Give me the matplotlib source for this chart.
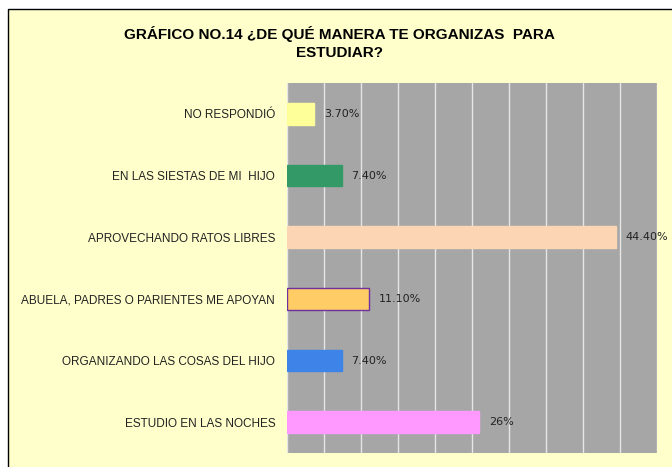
import matplotlib
matplotlib.use("Agg")
import matplotlib.pyplot as plt
from matplotlib.patches import Rectangle
import numpy as np

categories = ["NO RESPONDIÓ", "EN LAS SIESTAS DE MI  HIJO", "APROVECHANDO RATOS LIBRES",
              "ABUELA, PADRES O PARIENTES ME APOYAN", "ORGANIZANDO LAS COSAS DEL HIJO",
              "ESTUDIO EN LAS NOCHES"]
values = [3.7, 7.4, 44.4, 11.1, 7.4, 26]
value_labels = ["3.70%", "7.40%", "44.40%", "11.10%", "7.40%", "26%"]
colors = ["#FFFF99", "#339966", "#FCD5B4", "#FFCC66", "#3D83E8", "#FF99FF"]
edges = ["#FFFF99", "#339966", "#FCD5B4", "#7030A0", "#3D83E8", "#FF99FF"]

narrow = ["Liberation Sans Narrow", "Liberation Sans", "DejaVu Sans"]

fig = plt.figure(figsize=(6.72, 4.67), dpi=100)
fig.patch.set_facecolor("white")
# chart area box
fig.patches.append(Rectangle((8 / 672, -0.02), 1.1, 1 - 9 / 467 + 0.02,
                             transform=fig.transFigure, facecolor="#FFFFCC",
                             edgecolor="black", linewidth=1.0, zorder=-5))

ax = fig.add_axes([287 / 672, 1 - 453 / 467, 370 / 672, 370 / 467])
ax.set_zorder(2)
ax.set_facecolor("#A6A6A6")

y = np.arange(len(categories))
ax.barh(y, values, height=0.35, color=colors, edgecolor=edges, linewidth=1, zorder=3)
ax.set_xlim(0, 50)
ax.set_ylim(len(categories) - 0.5, -0.5)
ax.set_xticks(np.arange(0, 51, 5))
ax.xaxis.grid(True, color="#E6E6E6", linewidth=1)
ax.set_axisbelow(True)
ax.tick_params(axis="x", length=0, labelbottom=False)
ax.tick_params(axis="y", length=0, pad=8.5)
ax.set_yticks(y)
ax.set_yticklabels(categories, fontsize=8.5, family=narrow, color="#222222")
for s in ax.spines.values():
    s.set_visible(False)

for yi, v, lab in zip(y, values, value_labels):
    ax.annotate(lab, (v, yi), xytext=(7, 0), textcoords="offset points",
                va="center", ha="left", fontsize=8, color="#222222", zorder=4)

fig.text(0.505, 1 - 43 / 467, "GRÁFICO NO.14 ¿DE QUÉ MANERA TE ORGANIZAS  PARA\nESTUDIAR?",
         ha="center", va="center", fontsize=11, fontweight="bold", family=narrow,
         linespacing=1.4)

fig.savefig("out.png", dpi=100)
